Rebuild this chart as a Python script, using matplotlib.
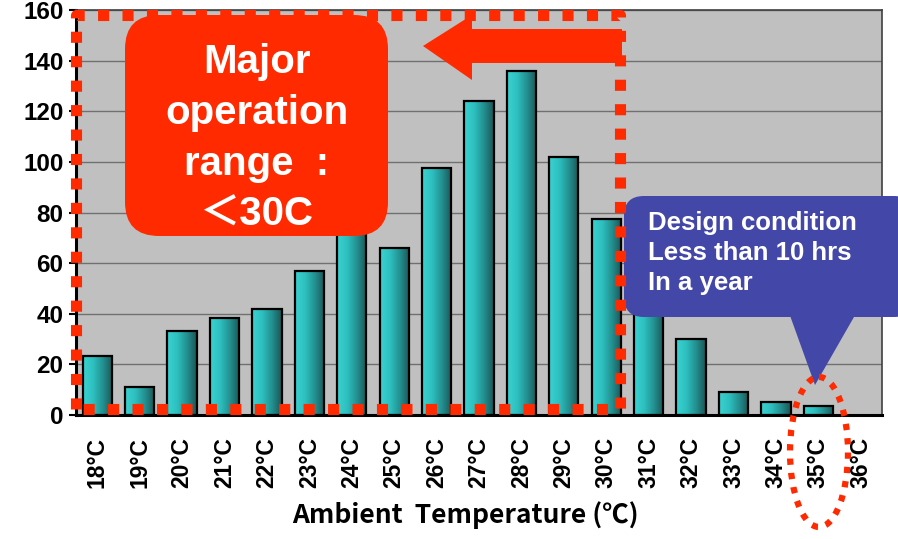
import matplotlib
matplotlib.use("Agg")
import matplotlib.pyplot as plt
import numpy as np
from matplotlib.patches import FancyBboxPatch, Polygon, Rectangle, Ellipse
from matplotlib.colors import LinearSegmentedColormap

# data
temps = ["18°C", "19°C", "20°C", "21°C", "22°C", "23°C", "24°C", "25°C", "26°C", "27°C",
         "28°C", "29°C", "30°C", "31°C", "32°C", "33°C", "34°C", "35°C", "36°C"]
hours = [23.5, 11, 33, 38.5, 42, 57, 77, 66, 97.5, 124, 136, 102, 77.5, 45, 30, 9.2, 5.3, 3.4, 0]
yticks = [0, 20, 40, 60, 80, 100, 120, 140, 160]
box_lines = ["Major", "operation", "range  :", "＜30C"]
callout_text = "Design condition\nLess than 10 hrs\nIn a year"

W, H = 898, 539
fig = plt.figure(figsize=(W / 100, H / 100), dpi=100)

# main axes in pixel placement
L, R, T, B = 76, 882, 10, 415
ax = fig.add_axes([L / W, 1 - B / H, (R - L) / W, (B - T) / H])
ax.set_facecolor("#C0C0C0")

cmap = LinearSegmentedColormap.from_list("teal", ["#3AD2D0", "#2EC0C0", "#249090", "#1A5656"])
grad = np.linspace(0, 1, 64).reshape(1, -1)
x = np.arange(len(temps))
bw = 0.69
for xi, v in zip(x, hours):
    if v <= 0:
        continue
    rect = Rectangle((xi - bw / 2, 0), bw, v, facecolor="none", edgecolor="black", lw=1.6, zorder=3)
    ax.add_patch(rect)
    im = ax.imshow(grad, cmap=cmap, aspect="auto", extent=(xi - bw / 2, xi + bw / 2, 0, v), zorder=2)
    im.set_clip_path(rect)

ax.set_xlim(-0.5, len(temps) - 0.5)
ax.set_ylim(0, 160)
ax.set_yticks(yticks)
ax.set_yticklabels([str(t) for t in yticks], fontsize=17.5, fontweight="bold", family="Liberation Sans")
ax.set_xticks(x)
ax.set_xticklabels(temps, rotation=90, fontsize=16.5, fontweight="bold", family="Liberation Sans")
ax.tick_params(axis="x", length=0, pad=16)
ax.tick_params(axis="y", length=5, width=1.5, pad=4)
ax.grid(axis="y", color="#707070", lw=1.0, zorder=1)
ax.set_axisbelow(True)
for s in ["left", "bottom"]:
    ax.spines[s].set_linewidth(2.2)
for s in ["top", "right"]:
    ax.spines[s].set_linewidth(1.2)
    ax.spines[s].set_color("#404040")

# overlay in pixel coordinates
ov = fig.add_axes([0, 0, 1, 1])
ov.set_xlim(0, W)
ov.set_ylim(H, 0)
ov.axis("off")
ov.patch.set_alpha(0)

ov.text(465, 515, "Ambient  Temperature (℃)", fontsize=19, fontweight="bold",
        family=["Noto Sans CJK JP", "DejaVu Sans"], ha="center", va="center")

red = "#FF2A00"
blue = "#4347A8"

# red rounded box
ov.add_patch(FancyBboxPatch((125 + 34, 15 + 34), 263 - 68, 221 - 68,
                            boxstyle="round,pad=34", facecolor=red, edgecolor="none", zorder=2))
for i, line in enumerate(box_lines):
    ov.text(257, 62 + i * 51, line, color="white", fontsize=29, fontweight="bold",
            family=["Liberation Sans", "Noto Sans CJK JP"], ha="center", va="center", zorder=3)

# arrow pointing left
ov.add_patch(Polygon([(423, 46), (472, 15), (472, 29), (622, 29), (622, 63), (472, 63), (472, 80)],
                     closed=True, facecolor=red, edgecolor="none", zorder=2))

# blue callout
ov.add_patch(FancyBboxPatch((624 + 20, 196 + 20), 290 - 40, 121 - 40,
                            boxstyle="round,pad=20", facecolor=blue, edgecolor="none", zorder=2))
ov.add_patch(Polygon([(788, 310), (858, 310), (815, 385)], closed=True,
                     facecolor=blue, edgecolor="none", zorder=2))
ov.text(648, 253, callout_text, color="white", fontsize=18.5, fontweight="bold",
        family="Liberation Sans", ha="left", va="center", linespacing=1.3, zorder=3)

# dotted range frame
ov.plot([76, 76, 620, 620, 76], [409, 15, 15, 409, 409], color=red, lw=8,
        linestyle=(0, (1.0, 1.2)), solid_capstyle="butt", dash_capstyle="butt", zorder=4)

# dotted ellipse around 35C
ov.add_patch(Ellipse((819, 452), 58, 150, facecolor="none", edgecolor=red, lw=4.5,
                     linestyle=(0, (1, 1.3)), zorder=4))

fig.savefig("out.png", dpi=100)
